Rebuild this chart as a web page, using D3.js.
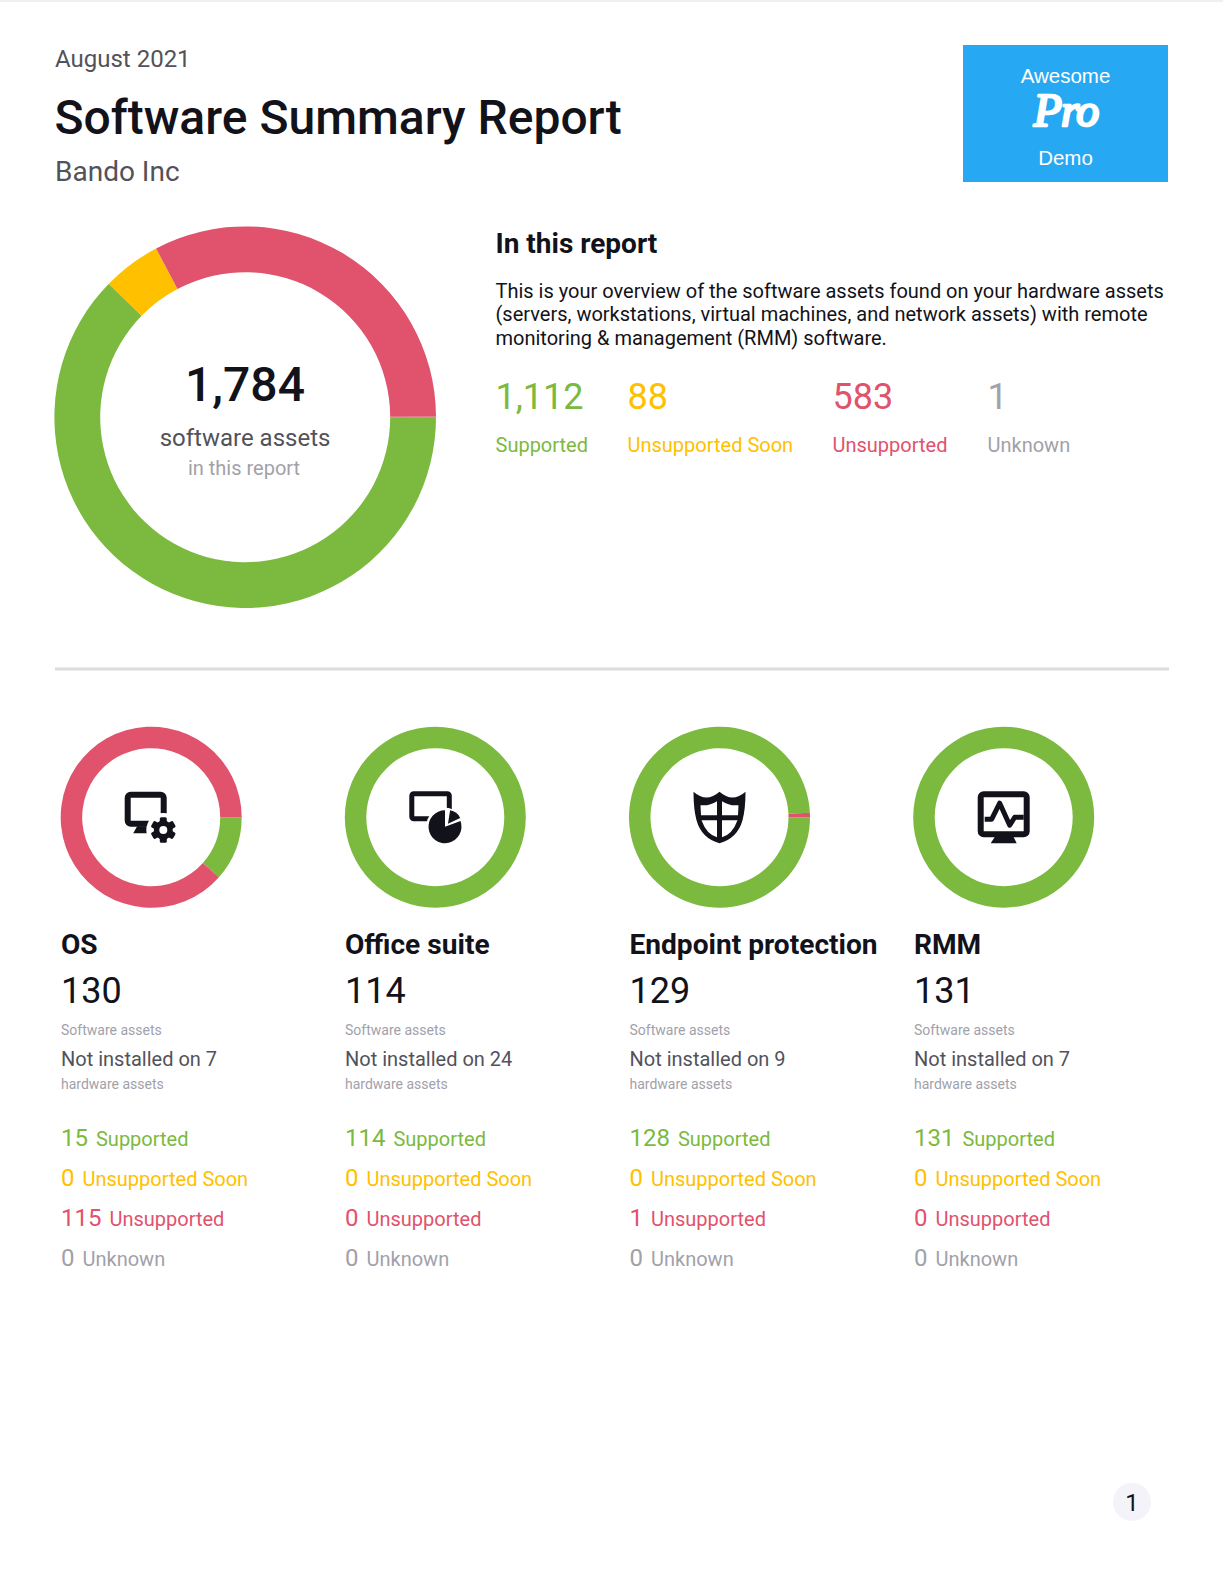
<!DOCTYPE html>
<html lang="en">
<head>
  <meta charset="UTF-8">
  <title>Software Summary Report</title>
  <script src="https://cdnjs.cloudflare.com/ajax/libs/d3/7.8.5/d3.min.js"></script>
  <style>
    body { margin: 0; background: #fff; }
    svg { display: block; font-family: Roboto, sans-serif; }
  </style>
</head>
<body>
  <div id="root"></div>
  <script>
    // Report data
    const statuses = ['Supported', 'Unsupported Soon', 'Unsupported', 'Unknown'];
    const statusColors = ['#7cb93f', '#ffc000', '#e1526d', '#a1a1aa'];
    const totalCounts = [1112, 88, 583, 1];
    const totalLabel = '1,784';
    const totalFormatted = ['1,112', '88', '583', '1'];
    const summaryX = [495.5, 627.5, 832.5, 987.5];

    const paragraph = [
      'This is your overview of the software assets found on your hardware assets',
      '(servers, workstations, virtual machines, and network assets) with remote',
      'monitoring & management (RMM) software.'
    ];

    const categories = ['OS', 'Office suite', 'Endpoint protection', 'RMM'];
    const softwareAssets = [130, 114, 129, 131];
    const notInstalled = [7, 24, 9, 7];
    const supported = [15, 114, 128, 131];
    const unsupportedSoon = [0, 0, 0, 0];
    const unsupported = [115, 0, 1, 0];
    const unknown = [0, 0, 0, 0];

    const dark = '#12121a', mid = '#52525b', light = '#a1a1aa';

    const svg = d3.select('#root').append('svg').attr('width', 1223).attr('height', 1583);
    const text = (x, y, str, size, fill, weight = 400, anchor = 'start') => svg.append('text')
      .attr('x', x).attr('y', y).attr('font-size', size).attr('fill', fill)
      .attr('font-weight', weight).attr('text-anchor', anchor).text(str);

    // Ring starts at 3 o'clock and runs clockwise
    const pie = d3.pie().sort(null).startAngle(Math.PI / 2).endAngle(Math.PI * 2.5);
    const drawRing = (cx, cy, inner, outer, counts, colors = statusColors) => {
      const arc = d3.arc().innerRadius(inner).outerRadius(outer);
      svg.append('g').attr('transform', `translate(${cx},${cy})`)
        .selectAll('path').data(pie(counts)).enter().append('path')
        .attr('d', arc).attr('fill', (d, i) => colors[i]);
    };

    svg.append('rect').attr('width', 1223).attr('height', 2).attr('fill', '#f0f0f0');

    // Header
    text(55, 67, 'August 2021', 24, mid);
    text(54.5, 134, 'Software Summary Report', 48, dark, 500);
    text(55, 181, 'Bando Inc', 28, mid);

    // Logo box
    svg.append('rect').attr('x', 963).attr('y', 45).attr('width', 205).attr('height', 137).attr('fill', '#27a8f3');
    text(1065.5, 83, 'Awesome', 20.5, '#fff', 400, 'middle').attr('font-family', 'Liberation Sans');
    text(1066, 126, 'Pro', 46, '#fff', 400, 'middle')
      .attr('font-family', 'Liberation Serif').attr('font-style', 'italic').attr('letter-spacing', -1)
      .attr('stroke', '#fff').attr('stroke-width', 2.6).attr('stroke-linejoin', 'round');
    text(1065.5, 165, 'Demo', 20.5, '#fff', 400, 'middle').attr('font-family', 'Liberation Sans');

    // Main ring, the single Unknown asset does not show as grey in the reference
    drawRing(245.2, 417.2, 145, 190.8, totalCounts, [statusColors[0], statusColors[1], statusColors[2], statusColors[2]]);
    text(245, 401, totalLabel, 48, dark, 500, 'middle');
    text(245, 446, 'software assets', 24, mid, 400, 'middle');
    text(244, 475, 'in this report', 20, light, 400, 'middle');

    // Summary block
    text(495.5, 253, 'In this report', 28, dark, 700);
    paragraph.forEach((line, i) => text(495.5, 298 + i * 23.3, line, 20, dark));
    statuses.forEach((s, i) => {
      text(summaryX[i], 409, totalFormatted[i], 36, statusColors[i]);
      text(summaryX[i], 452, s, 20, statusColors[i]);
    });

    svg.append('rect').attr('x', 55).attr('y', 667.5).attr('width', 1114).attr('height', 3).attr('fill', '#dcdcdc');

    // Icons, drawn around the centre of each ring
    const icons = [
      g => {
        g.append('rect').attr('x', -23.5).attr('y', -22.5).attr('width', 36).attr('height', 29)
          .attr('rx', 3).attr('fill', 'none').attr('stroke', dark).attr('stroke-width', 6);
        g.append('path').attr('d', 'M-14,9H-3V16H-18Z').attr('fill', dark);
        const gear = g.append('g').attr('transform', 'translate(12.1,12.8)');
        gear.append('circle').attr('r', 17).attr('fill', '#fff');
        d3.range(3).forEach(i => gear.append('rect').attr('x', -3.5).attr('y', -12.7).attr('width', 7).attr('height', 25.4)
          .attr('rx', 1.5).attr('fill', dark).attr('transform', `rotate(${i * 60})`));
        gear.append('circle').attr('r', 9.5).attr('fill', dark);
        gear.append('circle').attr('r', 4).attr('fill', '#fff');
      },
      g => {
        g.append('rect').attr('x', -23.5).attr('y', -23.5).attr('width', 37.5).attr('height', 25)
          .attr('rx', 2).attr('fill', 'none').attr('stroke', dark).attr('stroke-width', 5);
        const chart = g.append('g').attr('transform', 'translate(9.7,9.5)');
        chart.append('circle').attr('r', 19).attr('fill', '#fff');
        chart.append('path').attr('d', d3.arc().innerRadius(0).outerRadius(16.5)
          .startAngle(Math.PI * 0.39).endAngle(Math.PI * 2)()).attr('fill', dark);
        chart.append('path').attr('transform', 'translate(3,-3)').attr('d', d3.arc().innerRadius(0).outerRadius(13.5)
          .startAngle(Math.PI * 0.05).endAngle(Math.PI * 0.36)()).attr('fill', dark);
      },
      g => {
        g.append('path').attr('d', 'M-26,-25.5Q-13,-14 0,-25.5Q13,-14 26,-25.5Q26,-8 23,3Q18,21 0,26Q-18,21 -23,3Q-26,-8 -26,-25.5Z').attr('fill', dark);
        g.append('path').attr('fill', '#fff').attr('d',
          'M-19,-12Q-10,-11 -2.5,-16V-2H-18.5Z M2.5,-16Q10,-11 19,-12L18.5,-2H2.5Z M-18,3H-2.5V20Q-13,17 -18,3Z M2.5,3H18Q13,17 2.5,20Z');
      },
      g => {
        g.append('rect').attr('x', -23).attr('y', -23).attr('width', 46).attr('height', 40)
          .attr('rx', 3).attr('fill', 'none').attr('stroke', dark).attr('stroke-width', 6);
        g.append('path').attr('d', 'M-8.5,19H9.5L13,26H-13Z').attr('fill', dark);
        g.append('path').attr('d', 'M-19,2H-12L-4,-14L6,8L11,0H20').attr('fill', 'none')
          .attr('stroke', dark).attr('stroke-width', 5).attr('stroke-linejoin', 'round');
      }
    ];

    // Category cards
    const ringX = [151.2, 435.3, 719.5, 1003.7];
    const cardX = [61, 345, 629.5, 914];
    categories.forEach((name, i) => {
      const counts = [supported[i], unsupportedSoon[i], unsupported[i], unknown[i]];
      drawRing(ringX[i], 817.2, 69, 90.5, counts);
      icons[i](svg.append('g').attr('transform', `translate(${ringX[i]},817.2)`));

      const x = cardX[i];
      text(x, 954, name, 28.1, dark, 700);
      text(x, 1003, softwareAssets[i], 36, dark);
      text(x, 1035, 'Software assets', 14, light);
      text(x, 1066, `Not installed on ${notInstalled[i]}`, 20, mid);
      text(x, 1089, 'hardware assets', 14, light);
      counts.forEach((c, j) => {
        const row = text(x, 1145.5 + j * 40, '', 24, statusColors[j]);
        row.append('tspan').text(c);
        row.append('tspan').attr('dx', 8).attr('font-size', 20).text(statuses[j]);
      });
    });

    // Page number
    svg.append('circle').attr('cx', 1132).attr('cy', 1502).attr('r', 19).attr('fill', '#f3f3f9');
    text(1132, 1510.5, '1', 24, dark, 400, 'middle');
  </script>
</body>
</html>
